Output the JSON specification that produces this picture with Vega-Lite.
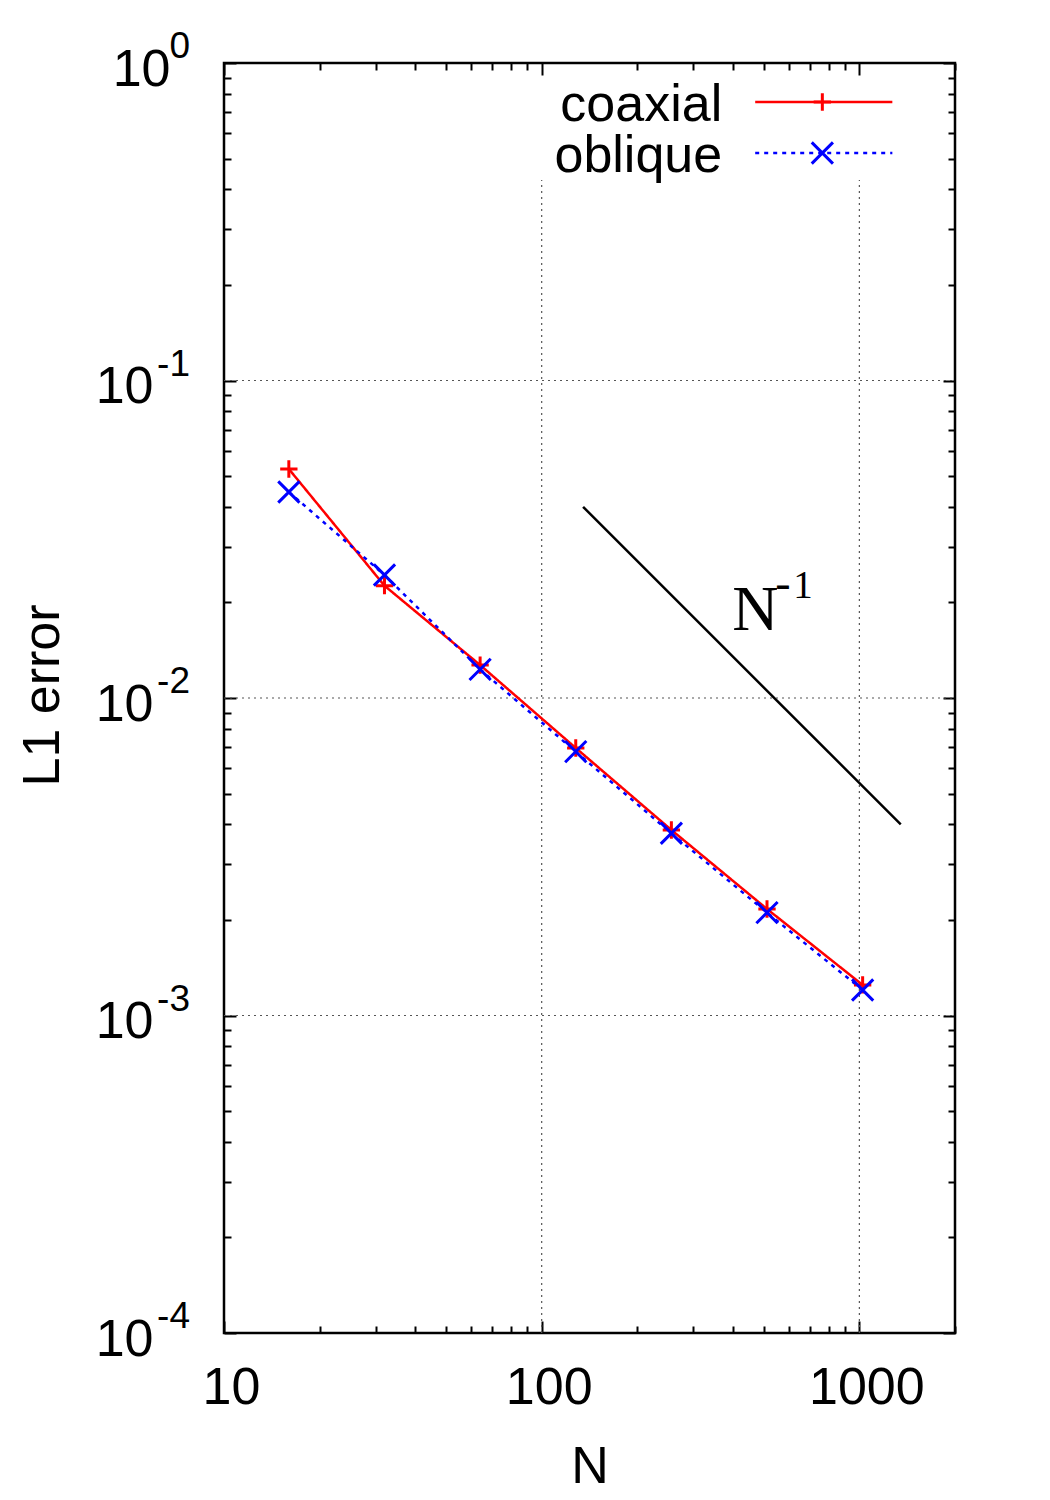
{
  "$schema": "https://vega.github.io/schema/vega-lite/v6.json",
  "width": 731,
  "height": 1270,
  "autosize": {"type": "none"},
  "padding": {"left": 224, "top": 63, "right": 95, "bottom": 167},
  "background": "white",
  "config": {
    "view": {"stroke": "black", "strokeWidth": 2.5},
    "font": "Liberation Sans"
  },
  "datasets": {
    "main": [
      {"N": 16, "err": 0.05264, "series": "coaxial"},
      {"N": 32, "err": 0.02258, "series": "coaxial"},
      {"N": 64, "err": 0.0127, "series": "coaxial"},
      {"N": 128, "err": 0.00696, "series": "coaxial"},
      {"N": 256, "err": 0.00384, "series": "coaxial"},
      {"N": 512, "err": 0.002165, "series": "coaxial"},
      {"N": 1024, "err": 0.001248, "series": "coaxial"},
      {"N": 16, "err": 0.04455, "series": "oblique"},
      {"N": 32, "err": 0.0244, "series": "oblique"},
      {"N": 64, "err": 0.01231, "series": "oblique"},
      {"N": 128, "err": 0.006776, "series": "oblique"},
      {"N": 256, "err": 0.003749, "series": "oblique"},
      {"N": 512, "err": 0.002108, "series": "oblique"},
      {"N": 1024, "err": 0.001203, "series": "oblique"}
    ],
    "legend": [
      {"series": "coaxial", "y": 0.7535, "x1": 470, "x2": 1270, "xm": 764.6, "xt": 370},
      {"series": "oblique", "y": 0.5206, "x1": 470, "x2": 1270, "xm": 764.6, "xt": 370}
    ]
  },
  "resolve": {"axis": {"x": "independent", "y": "independent"}},
  "layer": [
    {
      "data": {"values": [{"gx": 100}, {"gx": 1000}]},
      "mark": {"type": "rule", "color": "#555555", "strokeWidth": 1.2, "strokeDash": [2, 4]},
      "encoding": {
        "x": {"field": "gx", "type": "quantitative", "scale": {"type": "log", "domain": [10, 2000], "nice": false}, "axis": null},
        "y": {"datum": 0.0001, "type": "quantitative", "scale": {"type": "log", "domain": [0.0001, 1], "nice": false}, "axis": null},
        "y2": {"datum": 0.428}
      }
    },
    {
      "data": {"values": [{"gy": 0.1}, {"gy": 0.01}, {"gy": 0.001}]},
      "mark": {"type": "rule", "color": "#555555", "strokeWidth": 1.2, "strokeDash": [2, 4]},
      "encoding": {
        "x": {"datum": 10, "type": "quantitative", "axis": null},
        "x2": {"datum": 2000},
        "y": {"field": "gy", "type": "quantitative", "axis": null}
      }
    },
    {
      "data": {"name": "main"},
      "mark": {"type": "line", "strokeWidth": 2.5},
      "encoding": {
        "x": {
          "field": "N", "type": "quantitative",
          "axis": {
            "orient": "bottom",
            "values": [10, 20, 30, 40, 50, 60, 70, 80, 90, 100, 200, 300, 400, 500, 600, 700, 800, 900, 1000, 2000],
            "format": "d",
            "labelExpr": "datum.value==10||datum.value==100||datum.value==1000 ? datum.label : ''",
            "tickSize": {"condition": {"test": "datum.value==10||datum.value==100||datum.value==1000", "value": -12}, "value": -7},
            "tickWidth": 2, "tickColor": "black", "domain": false, "grid": false,
            "labelFont": "Liberation Sans", "labelFontSize": 52, "labelColor": "black",
            "labelBaseline": "top", "labelPadding": 41, "labelOffset": 7,
            "labelFlush": false, "labelOverlap": false, "labelBound": false,
            "title": "N", "titleFont": "Liberation Sans", "titleFontSize": 52, "titleFontWeight": "normal", "titleColor": "black",
            "titleBaseline": "alphabetic", "titleY": 149
          }
        },
        "y": {
          "field": "err", "type": "quantitative",
          "axis": {
            "orient": "left",
            "values": [0.0001, 0.0002, 0.0003, 0.0004, 0.0005, 0.0006, 0.0007, 0.0008, 0.0009, 0.001, 0.002, 0.003, 0.004, 0.005, 0.006, 0.007, 0.008, 0.009, 0.01, 0.02, 0.03, 0.04, 0.05, 0.06, 0.07, 0.08, 0.09, 0.1, 0.2, 0.3, 0.4, 0.5, 0.6, 0.7, 0.8, 0.9, 1],
            "labelExpr": "datum.value==1||datum.value==0.1||datum.value==0.01||datum.value==0.001||datum.value==0.0001 ? '10' : ''",
            "tickSize": {"condition": {"test": "datum.value==1||datum.value==0.1||datum.value==0.01||datum.value==0.001||datum.value==0.0001", "value": -12}, "value": -7},
            "tickWidth": 2, "tickColor": "black", "domain": false, "grid": false,
            "labelFont": "Liberation Sans", "labelFontSize": 52, "labelColor": "black",
            "labelBaseline": "alphabetic", "labelOffset": 22,
            "labelPadding": {"condition": {"test": "datum.value==1", "value": 66}, "value": 83},
            "labelFlush": false, "labelOverlap": false, "labelBound": false,
            "title": "L1 error", "titleFont": "Liberation Sans", "titleFontSize": 52, "titleFontWeight": "normal", "titleColor": "black",
            "titleAngle": -90, "titleBaseline": "alphabetic", "titleAlign": "center", "titleX": -166, "titleY": 632
          }
        },
        "color": {"field": "series", "type": "nominal", "scale": {"domain": ["coaxial", "oblique"], "range": ["#ff0000", "#0000ff"]}, "legend": null},
        "strokeDash": {"field": "series", "type": "nominal", "scale": {"domain": ["coaxial", "oblique"], "range": [[1, 0], [4, 5]]}, "legend": null}
      }
    },
    {
      "data": {"name": "main"},
      "mark": {"type": "point", "filled": false, "strokeWidth": 3, "opacity": 1},
      "encoding": {
        "x": {"field": "N", "type": "quantitative", "axis": null},
        "y": {"field": "err", "type": "quantitative", "axis": null},
        "color": {"field": "series", "type": "nominal", "legend": null},
        "shape": {"field": "series", "type": "nominal", "scale": {"domain": ["coaxial", "oblique"], "range": ["M-1,0L1,0M0,-1L0,1", "M-1,-1L1,1M-1,1L1,-1"]}, "legend": null},
        "size": {"field": "series", "type": "nominal", "scale": {"domain": ["coaxial", "oblique"], "range": [300, 450]}, "legend": null}
      }
    },
    {
      "data": {"values": [{"x": 135, "y": 0.04, "x2": 1350, "y2": 0.004}]},
      "mark": {"type": "rule", "color": "black", "strokeWidth": 2.5},
      "encoding": {
        "x": {
          "field": "x", "type": "quantitative",
          "axis": {
            "orient": "top",
            "values": [10, 20, 30, 40, 50, 60, 70, 80, 90, 100, 200, 300, 400, 500, 600, 700, 800, 900, 1000, 2000],
            "labels": false, "domain": false, "grid": false, "title": null,
            "tickSize": {"condition": {"test": "datum.value==10||datum.value==100||datum.value==1000", "value": -12}, "value": -7},
            "tickWidth": 2, "tickColor": "black"
          }
        },
        "x2": {"field": "x2"},
        "y": {
          "field": "y", "type": "quantitative",
          "axis": {
            "orient": "right",
            "values": [0.0001, 0.0002, 0.0003, 0.0004, 0.0005, 0.0006, 0.0007, 0.0008, 0.0009, 0.001, 0.002, 0.003, 0.004, 0.005, 0.006, 0.007, 0.008, 0.009, 0.01, 0.02, 0.03, 0.04, 0.05, 0.06, 0.07, 0.08, 0.09, 0.1, 0.2, 0.3, 0.4, 0.5, 0.6, 0.7, 0.8, 0.9, 1],
            "labels": false, "domain": false, "grid": false, "title": null,
            "tickSize": {"condition": {"test": "datum.value==1||datum.value==0.1||datum.value==0.01||datum.value==0.001||datum.value==0.0001", "value": -12}, "value": -7},
            "tickWidth": 2, "tickColor": "black"
          }
        },
        "y2": {"field": "y2"}
      }
    },
    {
      "data": {"values": [{"x": 398, "y": 0.01638, "t": "N"}]},
      "mark": {"type": "text", "font": "Liberation Serif", "fontSize": 64, "align": "left", "baseline": "alphabetic", "color": "black"},
      "encoding": {
        "x": {"field": "x", "type": "quantitative", "axis": null},
        "y": {"field": "y", "type": "quantitative", "axis": null},
        "text": {"field": "t"}
      }
    },
    {
      "data": {"values": [{"x": 543.8, "y": 0.02065, "t": "-"}]},
      "mark": {"type": "text", "font": "Liberation Serif", "fontSize": 46, "align": "left", "baseline": "alphabetic", "color": "black"},
      "encoding": {
        "x": {"field": "x", "type": "quantitative", "axis": null},
        "y": {"field": "y", "type": "quantitative", "axis": null},
        "text": {"field": "t"}
      }
    },
    {
      "data": {"values": [{"x": 619.6, "y": 0.02065, "t": "1"}]},
      "mark": {"type": "text", "font": "Liberation Serif", "fontSize": 39, "align": "left", "baseline": "alphabetic", "color": "black"},
      "encoding": {
        "x": {"field": "x", "type": "quantitative", "axis": null},
        "y": {"field": "y", "type": "quantitative", "axis": null},
        "text": {"field": "t"}
      }
    },
    {
      "data": {"values": [{"v": 1, "e": "0"}, {"v": 0.1, "e": "-1"}, {"v": 0.01, "e": "-2"}, {"v": 0.001, "e": "-3"}, {"v": 0.0001, "e": "-4"}]},
      "mark": {"type": "text", "font": "Liberation Sans", "fontSize": 37, "align": "right", "baseline": "alphabetic", "dx": -34, "dy": -5, "color": "black"},
      "encoding": {
        "x": {"datum": 10, "type": "quantitative", "axis": null},
        "y": {"field": "v", "type": "quantitative", "axis": null},
        "text": {"field": "e"}
      }
    },
    {
      "data": {"name": "legend"},
      "mark": {"type": "rule", "strokeWidth": 2.5},
      "encoding": {
        "x": {"field": "x1", "type": "quantitative", "axis": null},
        "x2": {"field": "x2"},
        "y": {"field": "y", "type": "quantitative", "axis": null},
        "color": {"field": "series", "type": "nominal", "legend": null},
        "strokeDash": {"field": "series", "type": "nominal", "legend": null}
      }
    },
    {
      "data": {"name": "legend"},
      "mark": {"type": "point", "filled": false, "strokeWidth": 3, "opacity": 1},
      "encoding": {
        "x": {"field": "xm", "type": "quantitative", "axis": null},
        "y": {"field": "y", "type": "quantitative", "axis": null},
        "color": {"field": "series", "type": "nominal", "legend": null},
        "shape": {"field": "series", "type": "nominal", "legend": null},
        "size": {"field": "series", "type": "nominal", "legend": null}
      }
    },
    {
      "data": {"name": "legend"},
      "mark": {"type": "text", "font": "Liberation Sans", "fontSize": 52, "align": "right", "baseline": "middle", "dy": 3, "color": "black"},
      "encoding": {
        "x": {"field": "xt", "type": "quantitative", "axis": null},
        "y": {"field": "y", "type": "quantitative", "axis": null},
        "text": {"field": "series"}
      }
    }
  ]
}
